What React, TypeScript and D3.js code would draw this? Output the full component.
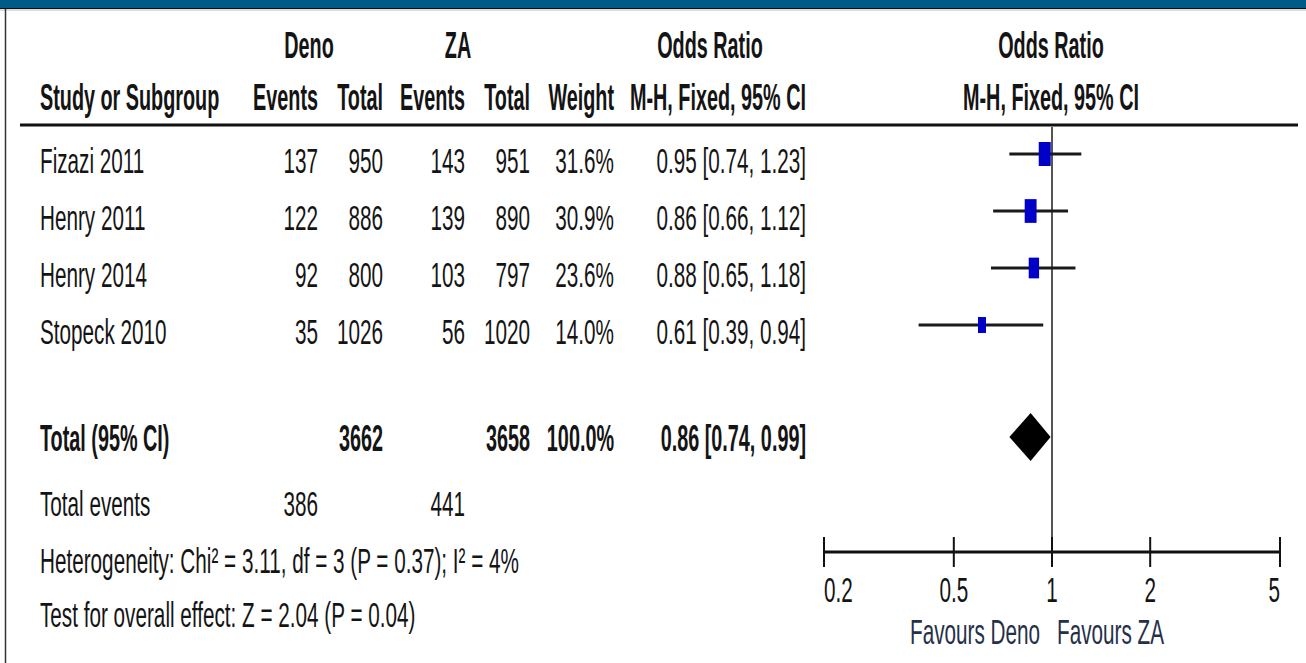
import * as d3 from 'd3';
import React from 'react';

const studies = ['Fizazi 2011', 'Henry 2011', 'Henry 2014', 'Stopeck 2010'];
const denoEvents = [137, 122, 92, 35];
const denoTotal = [950, 886, 800, 1026];
const zaEvents = [143, 139, 103, 56];
const zaTotal = [951, 890, 797, 1020];
const weights = [31.6, 30.9, 23.6, 14.0];
const totalWeight = 100.0;
const oddsRatio = [0.95, 0.86, 0.88, 0.61];
const ciLow = [0.74, 0.66, 0.65, 0.39];
const ciHigh = [1.23, 1.12, 1.18, 0.94];
const pooled = [0.86, 0.74, 0.99]; // OR, low, high
const axisTicks = [0.2, 0.5, 1, 2, 5];
const footLines = [
  'Heterogeneity: Chi\u00b2 = 3.11, df = 3 (P = 0.37); I\u00b2 = 4%',
  'Test for overall effect: Z = 2.04 (P = 0.04)',
];

const width = 1306;
const height = 663;
const FS = 36;
const SX_BOLD = 0.55;
const SX_REG = 0.575;
const INK = '#141414';

type TProps = {
  x: number;
  y: number;
  anchor?: 'start' | 'middle' | 'end';
  bold?: boolean;
  fill?: string;
  children: React.ReactNode;
};

// condensed text: squeeze horizontally like the narrow font of the original
const T = ({ x, y, anchor = 'start', bold = false, fill = INK, children }: TProps) => (
  <text
    transform={`translate(${x},${y}) scale(${bold ? SX_BOLD : SX_REG},1)`}
    textAnchor={anchor}
    fontSize={FS}
    fontWeight={bold ? 'bold' : 'normal'}
    fill={fill}
  >
    {children}
  </text>
);

const fmt2 = d3.format('.2f');
const fmtW = (v: number) => d3.format('.1f')(v) + '%';

export default function App() {
  const x = d3.scaleLog().domain([0.2, 5]).range([824, 1280]);
  const rowY = d3.scalePoint<number>().domain(d3.range(studies.length)).range([154, 325]);
  const boxW = d3.scaleSqrt().domain([0, d3.max(weights) as number]).range([0, 12]);

  const totalY = 437;
  const axisY = 552;
  const footY = [516, 573, 627];
  const rowOff = 19;

  const cols = { evD: 318, totD: 383, evZ: 465, totZ: 530, wt: 614, or: 806 };

  const sumDE = d3.sum(denoEvents);
  const sumDT = d3.sum(denoTotal);
  const sumZE = d3.sum(zaEvents);
  const sumZT = d3.sum(zaTotal);

  const diamond = d3.line()([
    [x(pooled[1]), totalY],
    [x(pooled[0]), totalY - 24],
    [x(pooled[2]), totalY],
    [x(pooled[0]), totalY + 24],
  ]) + 'Z';

  return (
    <svg
      width={width}
      height={height}
      style={{ position: 'absolute', left: 0, top: 0, background: '#fff' }}
      fontFamily="'Liberation Sans', Arial, sans-serif"
    >
      <rect x={0} y={0} width={width} height={8} fill="#005a87" />
      <line x1={0} x2={width} y1={8.5} y2={8.5} stroke="#111" strokeWidth={1} />
      <line x1={0} x2={width} y1={10} y2={10} stroke="#bbb" strokeWidth={1} />
      <line x1={5.5} x2={5.5} y1={9} y2={height} stroke="#333" strokeWidth={1.5} />

      {/* header */}
      <T x={309} y={58} anchor="middle" bold>Deno</T>
      <T x={458} y={58} anchor="middle" bold>ZA</T>
      <T x={710} y={58} anchor="middle" bold>Odds Ratio</T>
      <T x={1051} y={58} anchor="middle" bold>Odds Ratio</T>
      <T x={40} y={110} bold>Study or Subgroup</T>
      <T x={cols.evD} y={110} anchor="end" bold>Events</T>
      <T x={cols.totD} y={110} anchor="end" bold>Total</T>
      <T x={cols.evZ} y={110} anchor="end" bold>Events</T>
      <T x={cols.totZ} y={110} anchor="end" bold>Total</T>
      <T x={cols.wt} y={110} anchor="end" bold>Weight</T>
      <T x={cols.or} y={110} anchor="end" bold>M-H, Fixed, 95% CI</T>
      <T x={1051} y={110} anchor="middle" bold>M-H, Fixed, 95% CI</T>
      <line x1={20} x2={1298} y1={125} y2={125} stroke="#111" strokeWidth={3} />

      {/* null line */}
      <line x1={x(1)} x2={x(1)} y1={127} y2={axisY} stroke="#555" strokeWidth={2} />

      {/* study rows */}
      {studies.map((s, i) => {
        const y = rowY(i) as number;
        const ty = y + rowOff;
        const w = boxW(weights[i]);
        return (
          <g key={s}>
            <T x={40} y={ty}>{s}</T>
            <T x={cols.evD} y={ty} anchor="end">{denoEvents[i]}</T>
            <T x={cols.totD} y={ty} anchor="end">{denoTotal[i]}</T>
            <T x={cols.evZ} y={ty} anchor="end">{zaEvents[i]}</T>
            <T x={cols.totZ} y={ty} anchor="end">{zaTotal[i]}</T>
            <T x={cols.wt} y={ty} anchor="end">{fmtW(weights[i])}</T>
            <T x={cols.or} y={ty} anchor="end">
              {`${fmt2(oddsRatio[i])} [${fmt2(ciLow[i])}, ${fmt2(ciHigh[i])}]`}
            </T>
            <line x1={x(ciLow[i])} x2={x(ciHigh[i])} y1={y} y2={y} stroke="#1a1a1a" strokeWidth={3} />
            <rect x={x(oddsRatio[i]) - w / 2} y={y - w} width={w} height={w * 2} fill="#0000c8" />
          </g>
        );
      })}

      {/* total row */}
      <T x={40} y={totalY + 14} bold>Total (95% CI)</T>
      <T x={cols.totD} y={totalY + 14} anchor="end" bold>{sumDT}</T>
      <T x={cols.totZ} y={totalY + 14} anchor="end" bold>{sumZT}</T>
      <T x={cols.wt} y={totalY + 14} anchor="end" bold>{fmtW(totalWeight)}</T>
      <T x={cols.or} y={totalY + 14} anchor="end" bold>
        {`${fmt2(pooled[0])} [${fmt2(pooled[1])}, ${fmt2(pooled[2])}]`}
      </T>
      <path d={diamond} fill="#000" />

      {/* footer */}
      <T x={40} y={footY[0]}>Total events</T>
      <T x={cols.evD} y={footY[0]} anchor="end">{sumDE}</T>
      <T x={cols.evZ} y={footY[0]} anchor="end">{sumZE}</T>
      <T x={40} y={footY[1]}>{footLines[0]}</T>
      <T x={40} y={footY[2]}>{footLines[1]}</T>

      {/* axis */}
      <line x1={x(0.2)} x2={x(5)} y1={axisY} y2={axisY} stroke="#111" strokeWidth={3} />
      {axisTicks.map((t, i) => (
        <g key={t}>
          <line x1={x(t)} x2={x(t)} y1={axisY - 15} y2={axisY + 15} stroke="#111" strokeWidth={2} />
          <T
            x={x(t)}
            y={602}
            anchor={i === 0 ? 'start' : i === axisTicks.length - 1 ? 'end' : 'middle'}
          >
            {String(t)}
          </T>
        </g>
      ))}
      <T x={1040} y={644} anchor="end" fill="#263048">Favours Deno</T>
      <T x={1057} y={644} fill="#263048">Favours ZA</T>
    </svg>
  );
}
